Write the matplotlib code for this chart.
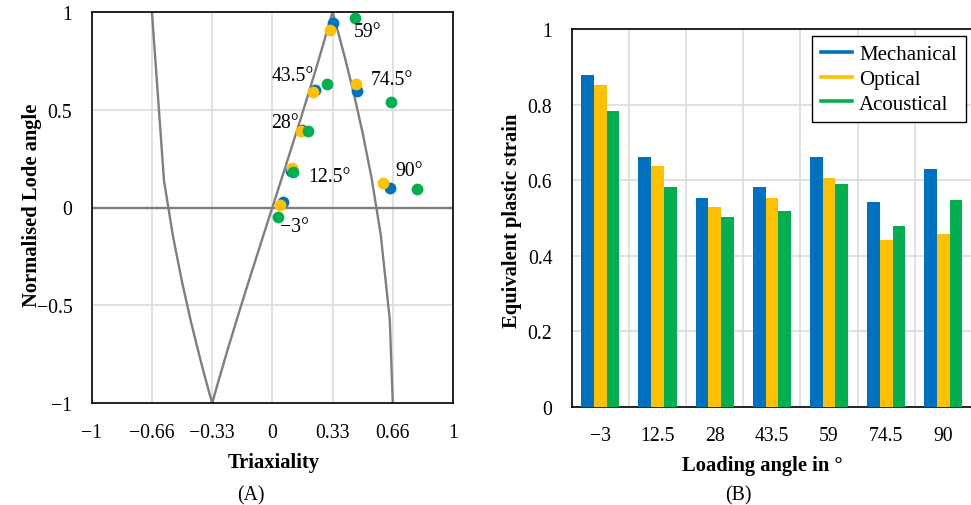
import matplotlib
matplotlib.use("Agg")
import matplotlib.pyplot as plt
from matplotlib.lines import Line2D

plt.rcParams['font.family'] = ['Liberation Serif', 'DejaVu Serif']
plt.rcParams['axes.unicode_minus'] = True

# ---------------- data: panel A ----------------
# plane-stress locus
locus_eta = [-0.6667, -0.6, -0.55, -0.5, -0.45, -0.4, -0.3667, -0.3333,
             -0.3, -0.25, -0.2, -0.15, -0.1, -0.05, 0.0, 0.05, 0.1, 0.15, 0.2,
             0.25, 0.3, 0.3333, 0.35, 0.4, 0.45, 0.5, 0.55, 0.6, 0.65, 0.6667]
locus_theta = [1.0, 0.139, -0.147, -0.380, -0.586, -0.771, -0.887, -1.0,
               -0.892, -0.734, -0.582, -0.433, -0.288, -0.143, 0.0, 0.143, 0.288, 0.433, 0.582,
               0.734, 0.892, 1.0, 0.944, 0.771, 0.586, 0.380, 0.147, -0.139, -0.572, -1.0]

angle_labels = ["\u22123\u00b0", "12.5\u00b0", "28\u00b0", "43.5\u00b0", "59\u00b0", "74.5\u00b0", "90\u00b0"]
# order: -3, 12.5, 28, 43.5, 59, 74.5, 90
mech_eta = [0.060, 0.101, 0.162, 0.235, 0.333, 0.466, 0.651]
mech_theta = [0.026, 0.187, 0.397, 0.600, 0.943, 0.596, 0.099]
opt_eta = [0.042, 0.110, 0.156, 0.226, 0.319, 0.461, 0.610]
opt_theta = [0.013, 0.201, 0.389, 0.591, 0.909, 0.631, 0.124]
aco_eta = [0.032, 0.115, 0.198, 0.304, 0.457, 0.657, 0.799]
aco_theta = [-0.046, 0.179, 0.389, 0.631, 0.968, 0.537, 0.094]
label_x = [0.125, 0.318, 0.069, 0.112, 0.529, 0.660, 0.756]
label_y = [-0.096, 0.160, 0.436, 0.672, 0.897, 0.656, 0.190]

xticks_A = [-1, -0.6667, -0.3333, 0, 0.3333, 0.6667, 1]
xticklabels_A = ["\u22121", "\u22120.66", "\u22120.33", "0", "0.33", "0.66", "1"]
yticks_A = [-1, -0.5, 0, 0.5, 1]
yticklabels_A = ["\u22121", "\u22120.5", "0", "0.5", "1"]

# ---------------- data: panel B ----------------
categories = ["\u22123", "12.5", "28", "43.5", "59", "74.5", "90"]
mechanical = [0.878, 0.662, 0.553, 0.581, 0.662, 0.542, 0.630]
optical = [0.852, 0.637, 0.530, 0.553, 0.606, 0.442, 0.457]
acoustical = [0.784, 0.583, 0.502, 0.519, 0.589, 0.478, 0.548]
yticks_B = [0, 0.2, 0.4, 0.6, 0.8, 1]
yticklabels_B = ["0", "0.2", "0.4", "0.6", "0.8", "1"]

BLUE = "#0070C0"
YELLOW = "#FFC000"
GREEN = "#00B050"
GRID = "#d9d9d9"
GREY = "#7f7f7f"
FS = 14.2
FSB = 14.8

W, H = 971, 506
fig = plt.figure(figsize=(W / 100, H / 100), dpi=100)

def fx(px):
    return px / W

def fy(py):
    return 1 - py / H

# ---------------- panel A ----------------
ax1 = fig.add_axes([fx(91.7), fy(404.3), fx(453) - fx(91.7), fy(12.7) - fy(404.3)])
ax1.set_xlim(-1, 1)
ax1.set_ylim(-1, 1)
ax1.set_xticks(xticks_A)
ax1.set_xticklabels(xticklabels_A)
ax1.set_yticks(yticks_A)
ax1.set_yticklabels(yticklabels_A)
ax1.grid(True, color=GRID, lw=1.1, zorder=0)
ax1.set_axisbelow(True)
ax1.axhline(0, color=GREY, lw=1.7, zorder=1)
ax1.plot(locus_eta, locus_theta, color=GREY, lw=1.7, zorder=2, clip_on=True)
ax1.scatter(mech_eta, mech_theta, s=72, color=BLUE, zorder=3, linewidths=0)
ax1.scatter(opt_eta, opt_theta, s=72, color=YELLOW, zorder=4, linewidths=0)
ax1.scatter(aco_eta, aco_theta, s=72, color=GREEN, zorder=5, linewidths=0)
for lx, ly, t in zip(label_x, label_y, angle_labels):
    ax1.text(lx, ly, t, fontsize=FS, ha='center', va='center', zorder=6)

# ---------------- panel B ----------------
ax2 = fig.add_axes([fx(571.7), fy(407.7), fx(972) - fx(571.7), fy(30.2) - fy(407.7)])
x = list(range(len(categories)))
bw = 0.222
ax2.bar([i - bw for i in x], mechanical, width=bw, color=BLUE, zorder=3, label="Mechanical")
ax2.bar(x, optical, width=bw, color=YELLOW, zorder=3, label="Optical")
ax2.bar([i + bw for i in x], acoustical, width=bw, color=GREEN, zorder=3, label="Acoustical")
ax2.set_xlim(-0.5, len(categories) - 0.5)
ax2.set_ylim(0, 1)
ax2.set_xticks(x)
ax2.set_xticklabels(categories)
ax2.set_xticks([i + 0.5 for i in x[:-1]], minor=True)
ax2.set_yticks(yticks_B)
ax2.set_yticklabels(yticklabels_B)
ax2.grid(True, axis='y', which='major', color=GRID, lw=1.1, zorder=0)
ax2.grid(True, axis='x', which='minor', color=GRID, lw=1.1, zorder=0)
ax2.set_axisbelow(True)
ax2.spines['right'].set_visible(False)

handles = [Line2D([0], [0], color=c, lw=2.6) for c in (BLUE, YELLOW, GREEN)]
leg = fig.legend(handles, ["Mechanical", "Optical", "Acoustical"],
                 loc='upper right', bbox_to_anchor=(fx(965.7), fy(36.7)),
                 fontsize=15, frameon=True, fancybox=False, borderaxespad=0,
                 handlelength=1.5, handletextpad=0.35, labelspacing=0.25,
                 borderpad=0.42)
leg.get_frame().set_edgecolor('black')
leg.get_frame().set_linewidth(1.0)
leg.get_frame().set_alpha(1)

for ax in (ax1, ax2):
    for sp in ax.spines.values():
        sp.set_color('black')
        sp.set_linewidth(1.2)
    ax.tick_params(axis='both', which='both', length=0, labelsize=FS, pad=14)

# ---------------- texts ----------------
fig.text(fx(31.7), fy(205), "Normalised Lode angle", rotation=90, ha='center', va='center',
         fontsize=FSB, fontweight='bold')
fig.text(fx(273.7), fy(463), "Triaxiality", ha='center', va='center', fontsize=FSB, fontweight='bold')
fig.text(fx(251.3), fy(496), "(A)", ha='center', va='center', fontsize=FS)
fig.text(fx(512), fy(221), "Equivalent plastic strain", rotation=90, ha='center', va='center',
         fontsize=FSB, fontweight='bold')
fig.text(fx(762), fy(466), "Loading angle in \u00b0", ha='center', va='center', fontsize=FSB, fontweight='bold')
fig.text(fx(738), fy(496), "(B)", ha='center', va='center', fontsize=FS)

fig.savefig("out.png", dpi=100)
